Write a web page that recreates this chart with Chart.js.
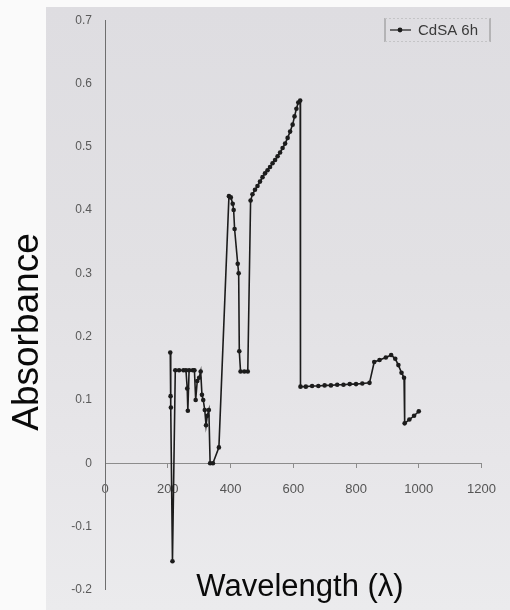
<!DOCTYPE html>
<html>
<head>
<meta charset="utf-8">
<title>CdSA 6h absorbance</title>
<script src="https://cdn.jsdelivr.net/npm/chart.js@4.4.0/dist/chart.umd.min.js"></script>
<style>
  html, body { margin: 0; padding: 0; background: #fafafa; }
  /* scanned sheet */
  #sheet {
    position: absolute; left: 46px; top: 7px; width: 464px; height: 603px;
    background: linear-gradient(to bottom, #dedde1 0%, #e2e1e4 45%, #e7e6e9 75%, #ebebed 100%);
  }
  #plot { position: absolute; left: 0; top: 0; }
</style>
</head>
<body>
<div id="sheet"></div>
<canvas id="plot" width="510" height="610"></canvas>
<script>
// -- Series: CdSA 6h --
const seriesLabel = 'CdSA 6h';
const wavelength = [
  208, 209, 210, 215, 224, 236, 250, 258, 262, 264, 268, 280, 285, 289, 294, 300,
  305, 309, 313, 318, 322, 326, 331, 335, 344, 363,
  395, 401, 407, 410, 413, 423, 426, 428, 432, 444, 455,
  464, 470, 478, 486, 494, 502, 510, 518, 526, 534, 542, 550, 558, 566, 574, 582,
  590, 598, 604, 610, 616, 622,
  623, 640, 660, 680, 700, 720, 740, 760, 780, 800, 820, 843,
  858, 875, 895, 912, 925, 935, 945, 953,
  955, 970, 985, 1000
];
const absorbance = [
  0.175, 0.106, 0.088, -0.155, 0.147, 0.147, 0.147, 0.147, 0.118, 0.083, 0.147, 0.147, 0.147, 0.1, 0.13, 0.135,
  0.145, 0.108, 0.1, 0.084, 0.06, 0.075, 0.084, 0.0, 0.0, 0.025,
  0.422, 0.42, 0.41, 0.4, 0.37, 0.315, 0.3, 0.177, 0.145, 0.145, 0.145,
  0.415, 0.425, 0.432, 0.438, 0.445, 0.452, 0.458, 0.463, 0.468, 0.474, 0.479, 0.485, 0.491, 0.498, 0.505, 0.514,
  0.524, 0.535, 0.548, 0.56, 0.57, 0.573,
  0.121, 0.121, 0.122, 0.122, 0.123, 0.123, 0.124, 0.124, 0.125, 0.125, 0.126, 0.127,
  0.16, 0.163, 0.167, 0.171, 0.165, 0.155, 0.143, 0.135,
  0.063, 0.069, 0.075, 0.082
];

// -- Axes --
const xTicks = [0, 200, 400, 600, 800, 1000, 1200];
const yTicks = [-0.2, -0.1, 0, 0.1, 0.2, 0.3, 0.4, 0.5, 0.6, 0.7];
const xTitle = 'Wavelength (\u03bb)';
const yTitle = 'Absorbance';

const FONT = '"Liberation Sans", Arial, sans-serif';
const INK = '#1c1c1c';

// axis titles + the boxed legend in the top-right corner
const sheetText = {
  id: 'sheetText',
  afterDraw(chart) {
    const { ctx, chartArea } = chart;
    ctx.save();
    ctx.fillStyle = '#0a0a0a';
    ctx.textAlign = 'center';
    ctx.textBaseline = 'middle';

    ctx.font = `37px ${FONT}`;
    ctx.save();
    ctx.translate(28, 332);
    ctx.rotate(-Math.PI / 2);
    ctx.fillText(yTitle, 0, 0);
    ctx.restore();

    ctx.font = `31px ${FONT}`;
    ctx.fillText(xTitle, 300, chartArea.bottom - 2);

    // legend
    const lx = 385, ly = 18, lw = 105, lh = 24;
    ctx.strokeStyle = '#8a8a8a';
    ctx.lineWidth = 1;
    ctx.beginPath();
    ctx.moveTo(lx, ly); ctx.lineTo(lx, ly + lh);
    ctx.moveTo(lx + lw, ly); ctx.lineTo(lx + lw, ly + lh);
    ctx.stroke();
    ctx.strokeStyle = '#c4c4c6';
    ctx.setLineDash([2, 2]);
    ctx.beginPath();
    ctx.moveTo(lx, ly + 0.5); ctx.lineTo(lx + lw, ly + 0.5);
    ctx.moveTo(lx, ly + lh - 0.5); ctx.lineTo(lx + lw, ly + lh - 0.5);
    ctx.stroke();
    ctx.setLineDash([]);

    const my = ly + lh / 2;
    ctx.strokeStyle = INK;
    ctx.lineWidth = 1.2;
    ctx.beginPath();
    ctx.moveTo(lx + 5, my); ctx.lineTo(lx + 26, my);
    ctx.stroke();
    ctx.beginPath();
    ctx.arc(lx + 15, my, 2.4, 0, Math.PI * 2);
    ctx.fillStyle = INK;
    ctx.fill();

    ctx.fillStyle = '#3a3a3a';
    ctx.font = `15px ${FONT}`;
    ctx.textAlign = 'left';
    ctx.fillText(chart.data.datasets[0].label, lx + 33, my + 1);
    ctx.restore();
  }
};

new Chart(document.getElementById('plot'), {
  type: 'scatter',
  data: {
    datasets: [{
      label: seriesLabel,
      data: wavelength.map((w, i) => ({ x: w, y: absorbance[i] })),
      showLine: true,
      borderColor: INK,
      borderWidth: 1.6,
      pointRadius: 2.3,
      pointBackgroundColor: INK,
      pointBorderWidth: 0,
      tension: 0,
    }],
  },
  options: {
    responsive: false,
    animation: false,
    layout: { padding: { left: 0, right: 27, top: 20, bottom: 18 } },
    plugins: {
      legend: { display: false },
      tooltip: { enabled: false },
    },
    scales: {
      x: {
        type: 'linear',
        position: { y: 0 },
        min: 0,
        max: 1200,
        afterBuildTicks: s => { s.ticks = xTicks.map(v => ({ value: v })); },
        grid: { display: true, drawOnChartArea: false, drawTicks: true, tickLength: 4, color: '#8c8c8c' },
        border: { display: true, color: '#8c8c8c', width: 1 },
        ticks: { color: '#555', padding: 14, font: { family: FONT, size: 13 }, callback: v => String(v) },
      },
      y: {
        type: 'linear',
        position: 'left',
        min: -0.2,
        max: 0.7,
        afterBuildTicks: s => { s.ticks = yTicks.map(v => ({ value: v })); },
        afterFit: s => { s.width = 105; },
        grid: { display: false, drawTicks: false },
        border: { display: true, color: '#6e6e6e', width: 1 },
        ticks: { color: '#5a5a5a', padding: 13, font: { family: FONT, size: 12 }, callback: v => String(v) },
      },
    },
  },
  plugins: [sheetText],
});
</script>
</body>
</html>
